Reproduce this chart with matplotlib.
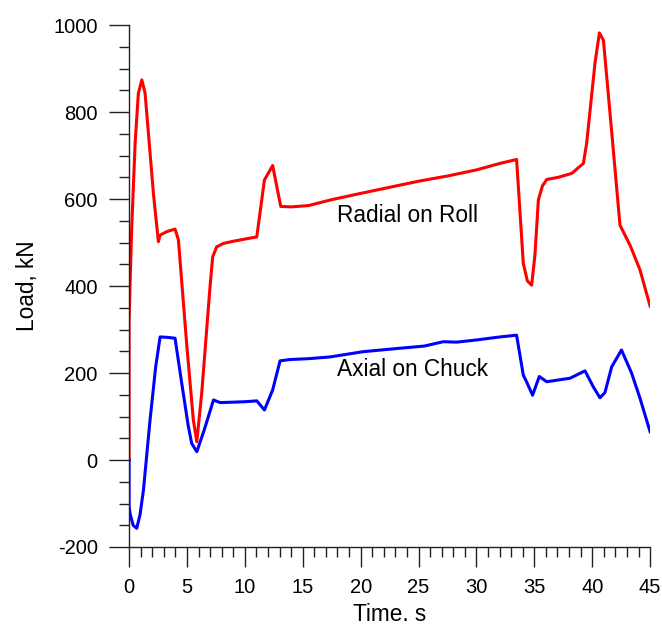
import matplotlib
matplotlib.use("Agg")
import matplotlib.pyplot as plt
from matplotlib.ticker import MultipleLocator

plt.rcParams['font.family'] = ['Liberation Sans', 'DejaVu Sans']
plt.rcParams['axes.unicode_minus'] = False

# radial load on roll (kN) vs time (s)
t_radial = [0.0, 0.0, 0.1, 0.23, 0.52, 0.8, 1.1, 1.38, 2.1, 2.53, 2.68, 3.25, 3.97, 4.26,
            4.97, 5.55, 5.85, 6.27, 6.99, 7.22, 7.56, 8.15, 9.0, 10.0, 11.03, 11.69,
            12.4, 13.1, 14.0, 15.5, 17.4, 20.0, 22.5, 25.0, 27.5, 30.0, 32.04, 33.47,
            34.05, 34.4, 34.77, 35.05, 35.35, 35.7, 36.07, 37.07, 38.23, 39.24, 39.52,
            40.24, 40.62, 40.97, 41.7, 42.4, 43.3, 44.13, 45.0]
radial = [0, 322, 420, 536, 728, 843, 874, 844, 613, 502, 517, 525, 531, 506,
          268, 92, 42, 153, 398, 467, 490, 498, 503, 508, 513, 644,
          677, 583, 582, 585, 598, 613, 627, 641, 653, 667, 682, 691,
          452, 412, 402, 470, 598, 630, 645, 650, 659, 682, 728,
          912, 982, 965, 750, 540, 492, 437, 354]

# axial load on chuck (kN) vs time (s)
t_axial = [0.0, 0.0, 0.1, 0.35, 0.66, 0.95, 1.24, 1.81, 2.3, 2.68, 3.3, 3.97, 4.55,
           5.1, 5.41, 5.85, 6.5, 7.29, 7.86, 9.0, 10.0, 11.03, 11.69, 12.4, 13.04,
           13.9, 15.5, 17.36, 20.2, 23.0, 25.5, 27.14, 28.3, 30.0, 32.04, 33.47,
           34.05, 34.33, 34.85, 35.43, 36.07, 38.08, 39.38, 40.1, 40.67, 41.1, 41.68,
           42.53, 43.4, 44.13, 45.0]
axial = [0, -107, -125, -150, -157, -125, -69, 92, 215, 283, 282, 280, 176,
         80, 38, 19, 70, 138, 132, 133, 134, 136, 115, 161, 228,
         231, 233, 237, 249, 256, 262, 272, 271, 276, 283, 287,
         195, 180, 149, 192, 180, 188, 205, 168, 143, 155, 214,
         253, 200, 142, 65]

fig = plt.figure(figsize=(6.62, 6.27), dpi=100)
ax = fig.add_axes([0.195, 0.1276, 0.787, 0.8324])

ax.plot(t_radial, radial, color='#ff0000', lw=2.2)
ax.plot(t_axial, axial, color='#0000ff', lw=2.2)

ax.set_xlim(0, 45)
ax.set_ylim(-200, 1000)

for s in ['top', 'right']:
    ax.spines[s].set_visible(False)
for s in ['left', 'bottom']:
    ax.spines[s].set_color('#222222')
    ax.spines[s].set_linewidth(1.0)

ax.xaxis.set_major_locator(MultipleLocator(5))
ax.xaxis.set_minor_locator(MultipleLocator(1))
ax.yaxis.set_major_locator(MultipleLocator(200))
ax.yaxis.set_minor_locator(MultipleLocator(50))
ax.tick_params(which='major', direction='out', length=14.5, width=1.0,
               color='#222222', labelsize=14.5, pad=8)
ax.tick_params(which='minor', direction='out', length=7, width=1.0, color='#222222')

ax.set_xlabel('Time. s', fontsize=16.3, labelpad=4)
ax.set_ylabel('Load, kN', fontsize=16.3, labelpad=10)

ax.text(17.96, 563, 'Radial on Roll', fontsize=16.3, va='center', ha='left')
ax.text(17.96, 207, 'Axial on Chuck', fontsize=16.3, va='center', ha='left')

fig.savefig('out.png', dpi=100)
